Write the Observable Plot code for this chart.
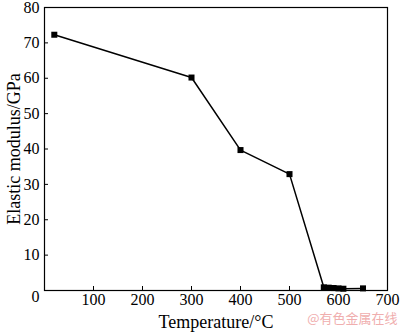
<!DOCTYPE html>
<html>
<head>
<meta charset="utf-8">
<script src="https://cdn.jsdelivr.net/npm/d3@7"></script>
<script src="https://cdn.jsdelivr.net/npm/@observablehq/plot@0.6"></script>
<style>
  html, body { margin: 0; padding: 0; background: #fff; }
  #chart { width: 400px; height: 332px; }
</style>
</head>
<body>
<div id="chart"></div>
<script>
const temperature = [20, 300, 400, 500, 570, 580, 590, 600, 610, 650];
const modulus = [72.3, 60.2, 39.7, 32.9, 0.9, 0.8, 0.7, 0.6, 0.5, 0.6];
const xTicks = [0, 100, 200, 300, 400, 500, 600, 700];
const yTicks = [0, 10, 20, 30, 40, 50, 60, 70, 80];
const xLabel = "Temperature/°C";
const yLabel = "Elastic modulus/GPa";
const watermark = "@有色金属在线";

const data = temperature.map((t, i) => ({t, e: modulus[i]}));
const serif = "'Liberation Serif', 'Times New Roman', serif";

const chart = Plot.plot({
  width: 400,
  height: 332,
  marginTop: 7,
  marginRight: 13,
  marginBottom: 42,
  marginLeft: 44,
  style: {fontFamily: serif, fontSize: "16px", color: "#000", background: "#fff"},
  x: {domain: [0, 700]},
  y: {domain: [0, 80]},
  marks: [
    Plot.frame({stroke: "#000", strokeWidth: 1.2}),
    Plot.axisX({ticks: xTicks, tickSize: -4, tickPadding: 7, tickFormat: d => d === 0 ? "" : d,
      label: xLabel, labelAnchor: "center", labelArrow: "none", labelOffset: 37,
      fontSize: 16, fontFamily: serif, fontVariant: "normal"}),
    Plot.axisY({ticks: yTicks, tickSize: -4, tickPadding: 9, tickFormat: d => d === 0 ? "" : d,
      label: yLabel, labelAnchor: "center", labelArrow: "none", labelOffset: 37,
      fontSize: 16, fontFamily: serif, fontVariant: "normal"}),
    Plot.axisY({ticks: [0], tickSize: 0, tickPadding: 5, dy: 6, label: null,
      fontSize: 16, fontFamily: serif, fontVariant: "normal"}),
    Plot.line(data, {x: "t", y: "e", stroke: "#000", strokeWidth: 1.5}),
    Plot.dot(data, {x: "t", y: "e", symbol: "square", r: 3.4, fill: "#000", stroke: "none"}),
    Plot.text([watermark], {frameAnchor: "bottom-right", dx: 10, dy: 32, textAnchor: "end",
      fontFamily: "'Noto Sans CJK SC', sans-serif", fontSize: 13, fill: "#f0aeae"})
  ]
});
document.getElementById("chart").appendChild(chart);
chart.querySelectorAll("g[aria-label='x-axis label'] text, g[aria-label='y-axis label'] text").forEach(t => t.setAttribute("font-size", "18"));
</script>
</body>
</html>
